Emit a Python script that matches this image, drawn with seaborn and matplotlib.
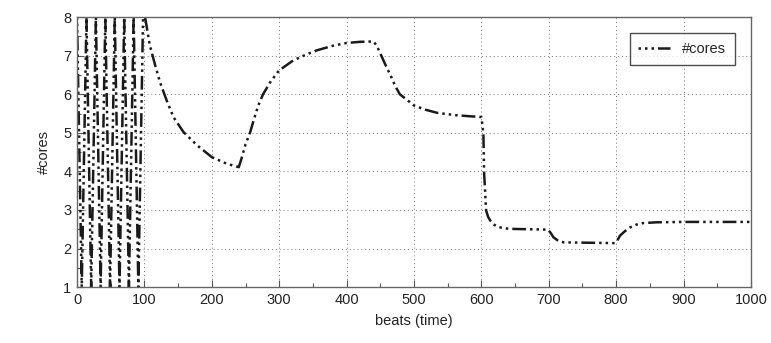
import matplotlib
matplotlib.use("Agg")
import matplotlib.pyplot as plt
import seaborn as sns
from matplotlib.ticker import MultipleLocator

# Beat index and allocated core count
beats = [0, 7, 14, 21, 28, 35, 42, 49, 56, 63, 70, 77, 84, 91, 98, 100,
         101, 108, 116, 123, 133, 143, 158, 178, 200, 222, 232, 240,
         244, 250, 257, 263, 269, 276, 288, 300, 321, 340, 356, 380, 400, 420, 440,
         445, 450, 458, 465, 472, 479, 490, 500, 517, 534, 560, 583, 600,
         603, 604, 607, 610, 613, 618, 623, 632, 642, 670, 699,
         703, 707, 714, 722, 760, 798,
         802, 806, 813, 821, 830, 840, 860, 900, 950, 1000]
cores = [8, 1, 8, 1, 8, 1, 8, 1, 8, 1, 8, 1, 8, 1, 8, 8,
         8.0, 7.27, 6.75, 6.32, 5.84, 5.41, 5.02, 4.68, 4.37, 4.2, 4.15, 4.11,
         4.33, 4.7, 5.02, 5.38, 5.71, 6.0, 6.35, 6.62, 6.88, 7.03, 7.14, 7.26, 7.33, 7.36, 7.37,
         7.25, 7.06, 6.75, 6.5, 6.22, 6.0, 5.85, 5.71, 5.6, 5.52, 5.46, 5.43, 5.41,
         4.98, 3.98, 2.99, 2.82, 2.73, 2.63, 2.57, 2.53, 2.51, 2.5, 2.49,
         2.4, 2.29, 2.2, 2.16, 2.15, 2.14,
         2.22, 2.34, 2.45, 2.55, 2.62, 2.66, 2.68, 2.69, 2.69, 2.69]

x_ticks = [0, 100, 200, 300, 400, 500, 600, 700, 800, 900, 1000]
y_ticks = [1, 2, 3, 4, 5, 6, 7, 8]

sns.set_theme(style="white")
plt.rcParams["font.family"] = ["Liberation Sans", "DejaVu Sans"]

fig = plt.figure(figsize=(7.71, 3.43), dpi=100)
ax = fig.add_axes([0.0999, 0.163, 0.8741, 0.787])

dash_pattern = [1, 1.6, 1, 1.6, 1, 1.6, 5.5, 1.6]

sns.lineplot(x=beats, y=cores, estimator=None, sort=False, ax=ax,
             color="#1a1a1a", linewidth=1.8, label="#cores")
line = ax.lines[0]
line.set_dashes(dash_pattern)

ax.set_xlim(0, 1000)
ax.set_ylim(1, 8)
ax.set_xticks(x_ticks)
ax.set_yticks(y_ticks)
ax.xaxis.set_minor_locator(MultipleLocator(50))
ax.yaxis.set_minor_locator(MultipleLocator(0.5))
ax.tick_params(axis="both", which="both", direction="in", colors="#555555",
               labelcolor="#222222", labelsize=10.5, pad=4,
               bottom=True, left=True, top=False, right=False)
ax.tick_params(axis="both", which="major", length=5, width=0.8)
ax.tick_params(axis="both", which="minor", length=3, width=0.8)

ax.grid(True, which="major", linestyle=(0, (1, 3)), color="#777777", linewidth=0.7)
for sp in ax.spines.values():
    sp.set_color("#666666")
    sp.set_linewidth(1.0)

ax.set_xlabel("beats (time)", fontsize=10.5, color="#222222", labelpad=5)
ax.set_ylabel("#cores", fontsize=10.5, color="#222222", labelpad=9)

leg = ax.legend(loc="upper right", fontsize=10.5, frameon=True, fancybox=False,
                handlelength=2.2, borderaxespad=1.1, borderpad=0.6)
leg.get_frame().set_edgecolor("#222222")
leg.get_frame().set_linewidth(1.0)
for lh in leg.get_lines():
    lh.set_dashes(dash_pattern)

fig.savefig("out.png", dpi=100)
